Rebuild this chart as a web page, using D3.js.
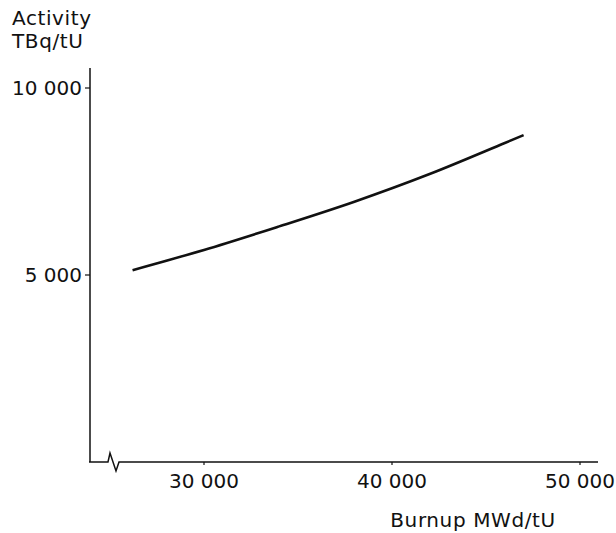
<!DOCTYPE html>
<html>
<head>
<meta charset="utf-8">
<script src="https://cdn.jsdelivr.net/npm/d3@7"></script>
<style>
  body { margin: 0; background: #fff; }
  svg { display: block; font-family: "DejaVu Sans", sans-serif; }
  text { fill: #111; font-size: 20px; }
</style>
</head>
<body>
<div id="chart"></div>
<script>
// values
const burnup = [26200, 30000, 34000, 38000, 42000, 46000, 47000];
const activity = [5130, 5670, 6300, 6960, 7700, 8530, 8740];
const xTicks = [30000, 40000, 50000];
const yTicks = [5000, 10000];
const xTitle = "Burnup MWd/tU";
const yTitle = ["Activity", "TBq/tU"];

const width = 616;
const height = 533;

const x = d3.scaleLinear().domain([30000, 50000]).range([204, 580]);
const y = d3.scaleLinear().domain([0, 10000]).range([462, 88]);
const fmt = (v) => d3.format(",")(v).replace(",", " ");

const svg = d3
  .select("#chart")
  .append("svg")
  .attr("width", width)
  .attr("height", height);

const x0 = x.invert(89);
const x1 = x.invert(598);
const yTop = y.invert(68);

// y axis line
svg
  .append("line")
  .attr("x1", x(x0) + 1)
  .attr("x2", x(x0) + 1)
  .attr("y1", y(0))
  .attr("y2", y(yTop))
  .attr("stroke", "#111")
  .attr("stroke-width", 1.5);

// x axis with a break near the origin
const bx = x(x0) + 19;
const by = y(0);
svg
  .append("path")
  .attr(
    "d",
    `M${x(x0)},${by}H${bx}L${bx + 2},${by - 9}L${bx + 8},${by + 9}L${bx + 11},${by}H${x(x1)}`
  )
  .attr("fill", "none")
  .attr("stroke", "#111")
  .attr("stroke-width", 1.5)
  .attr("stroke-linejoin", "miter");

// y ticks
svg
  .selectAll(".ytick")
  .data(yTicks)
  .join("line")
  .attr("x1", x(x0) - 4)
  .attr("x2", x(x0) + 1)
  .attr("y1", (d) => y(d))
  .attr("y2", (d) => y(d))
  .attr("stroke", "#111")
  .attr("stroke-width", 1.2);

svg
  .selectAll(".ylab")
  .data(yTicks)
  .join("text")
  .attr("x", 82)
  .attr("y", (d) => y(d) + 7)
  .attr("text-anchor", "end")
  .text(fmt);

// x ticks
svg
  .selectAll(".xtick")
  .data(xTicks)
  .join("line")
  .attr("x1", (d) => x(d))
  .attr("x2", (d) => x(d))
  .attr("y1", y(0))
  .attr("y2", y(0) + 3)
  .attr("stroke", "#111")
  .attr("stroke-width", 1.2);

svg
  .selectAll(".xlab")
  .data(xTicks)
  .join("text")
  .attr("x", (d) => x(d))
  .attr("y", 488)
  .attr("text-anchor", "middle")
  .text(fmt);

// titles
svg
  .append("text")
  .attr("x", 473)
  .attr("y", 527)
  .attr("text-anchor", "middle")
  .attr("letter-spacing", 0.6)
  .text(xTitle);

svg
  .selectAll(".ytitle")
  .data(yTitle)
  .join("text")
  .attr("x", 12)
  .attr("y", (d, i) => 25 + i * 23)
  .attr("letter-spacing", 0.6)
  .text((d) => d);

// curve
const pts = burnup.map((b, i) => [b, activity[i]]);
svg
  .append("path")
  .datum(pts)
  .attr(
    "d",
    d3
      .line()
      .x((d) => x(d[0]))
      .y((d) => y(d[1]))
      .curve(d3.curveMonotoneX)
  )
  .attr("fill", "none")
  .attr("stroke", "#111")
  .attr("stroke-width", 2.6);
</script>
</body>
</html>
